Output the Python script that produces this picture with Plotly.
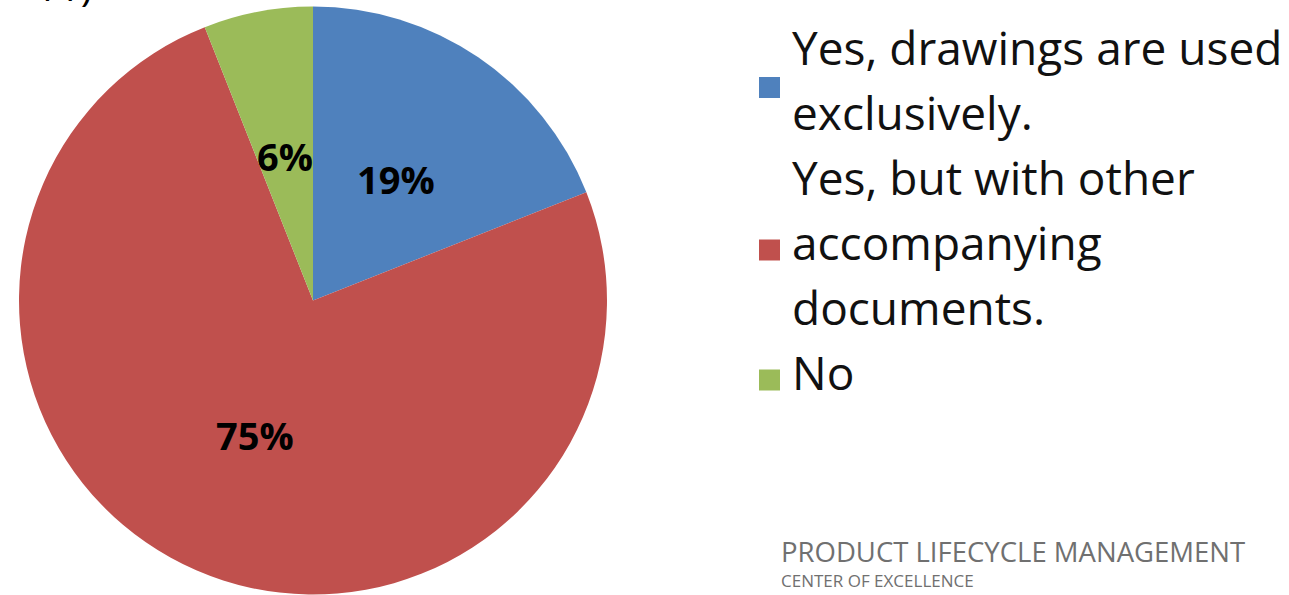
import math
import plotly.graph_objects as go

# ---- data ----
categories = ["Yes, drawings are used exclusively.",
              "Yes, but with other accompanying documents.",
              "No"]
legend_lines = [["Yes, drawings are used", "exclusively."],
                ["Yes, but with other", "accompanying", "documents."],
                ["No"]]
values = [19, 75, 6]
colors = ["#4F81BD", "#C0504D", "#9BBB59"]

W, H = 1289, 595

def px(x):
    return x / W

def py(y):
    return min(1.0, max(0.0, 1 - y / H))

# pie geometry (pixels)
cx, cy, r = 313, 300.5, 294

fig = go.Figure(go.Pie(
    labels=categories,
    values=values,
    sort=False,
    direction="clockwise",
    rotation=0,
    marker=dict(colors=colors, line=dict(width=0)),
    textinfo="none",
    domain=dict(x=[px(cx - r), px(cx + r)], y=[py(cy + r), py(cy - r)]),
    showlegend=False,
    hoverinfo="label+percent",
))

annotations = []
shapes = []

# percentage labels at half radius along each slice's bisector
total = sum(values)
cum = 0
for v in values:
    mid = (cum + v / 2) / total * 2 * math.pi  # clockwise from 12 o'clock
    cum += v
    lx = cx + 0.5 * r * math.sin(mid)
    ly = cy - 0.5 * r * math.cos(mid)
    annotations.append(dict(
        x=px(lx), y=py(ly), xref="paper", yref="paper",
        xanchor="center", yanchor="middle",
        text=f"{round(100 * v / total)}%", showarrow=False,
        font=dict(family="Open Sans", size=38, color="black", weight="bold"),
    ))

# manual legend
text_x = 790
line_gap = 65
first_baseline = 65
font_legend = 46
line_idx = 0
for lines, col in zip(legend_lines, colors):
    n = len(lines)
    start = line_idx
    for ln in lines:
        base = first_baseline + line_gap * line_idx
        annotations.append(dict(
            x=px(text_x), y=py(base - 18), xref="paper", yref="paper",
            xanchor="left", yanchor="middle", text=ln, showarrow=False,
            font=dict(family="Open Sans", size=font_legend, color="#111111"),
        ))
        line_idx += 1
    mid_center = first_baseline + line_gap * (start + (n - 1) / 2) - 10
    s = 21
    shapes.append(dict(
        type="rect", xref="paper", yref="paper",
        x0=px(759), x1=px(759 + s),
        y0=py(mid_center + s / 2), y1=py(mid_center - s / 2),
        fillcolor=col, line=dict(width=0),
    ))

# watermark
annotations.append(dict(
    x=px(779), y=py(551), xref="paper", yref="paper", xanchor="left",
    yanchor="middle", text="PRODUCT LIFECYCLE MANAGEMENT", showarrow=False,
    font=dict(family="Open Sans", size=27.5, color="#707070"),
))
annotations.append(dict(
    x=px(779), y=py(580), xref="paper", yref="paper", xanchor="left",
    yanchor="middle", text="CENTER OF EXCELLENCE", showarrow=False,
    font=dict(family="Open Sans", size=17, color="#707070"),
))
# figure number, cut off at the very top as in the source
annotations.append(dict(
    x=px(33), y=py(15), xref="paper", yref="paper", xanchor="left",
    yanchor="bottom", text="11)", showarrow=False,
    font=dict(family="Open Sans", size=40, color="black"),
))

fig.update_layout(
    width=W, height=H,
    margin=dict(l=0, r=0, t=0, b=0),
    paper_bgcolor="white", plot_bgcolor="white",
    annotations=annotations, shapes=shapes,
    showlegend=False,
)

fig.write_html("out.html")
